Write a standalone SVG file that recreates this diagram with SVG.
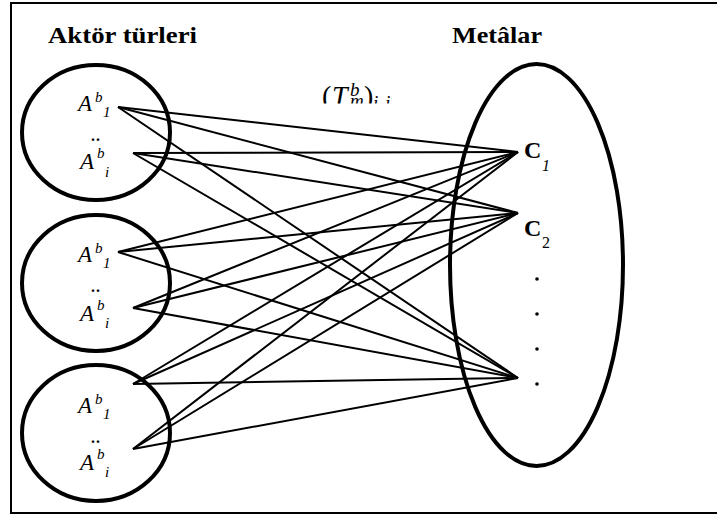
<svg xmlns="http://www.w3.org/2000/svg" width="717" height="515" viewBox="0 0 717 515">
<defs>
<style>
.frame{fill:none;stroke:#000;stroke-width:2}
.set{fill:none;stroke:#000;stroke-width:4}
.conn line{stroke:#000;stroke-width:2}
.hdr{font-family:"Liberation Serif","Times New Roman",serif;font-weight:bold;font-size:24px;fill:#000}
.it{font-family:"Liberation Serif","Times New Roman",serif;font-style:italic;fill:#000}
.rm{font-family:"Liberation Serif","Times New Roman",serif;fill:#000}
.A{font-size:23px}
.s{font-size:15px}
.dd{font-family:"Liberation Serif","Times New Roman",serif;font-weight:bold;font-size:16px;letter-spacing:1px;fill:#000}
.C{font-family:"Liberation Serif","Times New Roman",serif;font-weight:bold;font-size:24px;fill:#000}
.cs{font-size:16px}
</style>
<clipPath id="fclip"><rect x="300" y="70" width="120" height="33.5"/></clipPath>
</defs>
<rect class="frame" x="11" y="3" width="720" height="510"/>
<text class="hdr" x="48" y="43" textLength="149" lengthAdjust="spacingAndGlyphs">Aktör türleri</text>
<text class="hdr" x="452" y="43" textLength="90" lengthAdjust="spacingAndGlyphs">Metâlar</text>
<g id="formula" clip-path="url(#fclip)">
<text class="it" font-size="28" y="105"><tspan x="322" font-style="normal">(</tspan><tspan x="332">T</tspan><tspan x="350" y="96" font-size="19">b</tspan><tspan x="350" y="107" font-size="19">m</tspan><tspan x="364" y="105" font-style="normal">)</tspan><tspan x="373" y="109" font-size="19">i</tspan><tspan x="385" font-size="19">j</tspan></text>
</g>
<g class="conn" id="connectors">
<line x1="118" y1="107" x2="518" y2="152"/>
<line x1="118" y1="107" x2="518" y2="213"/>
<line x1="118" y1="107" x2="518" y2="378"/>
<line x1="133" y1="153" x2="518" y2="152"/>
<line x1="133" y1="153" x2="518" y2="213"/>
<line x1="133" y1="153" x2="518" y2="378"/>
<line x1="118" y1="252" x2="518" y2="152"/>
<line x1="118" y1="252" x2="518" y2="213"/>
<line x1="118" y1="252" x2="518" y2="378"/>
<line x1="133" y1="308" x2="518" y2="152"/>
<line x1="133" y1="308" x2="518" y2="213"/>
<line x1="133" y1="308" x2="518" y2="378"/>
<line x1="133" y1="384" x2="518" y2="152"/>
<line x1="133" y1="384" x2="518" y2="213"/>
<line x1="133" y1="384" x2="518" y2="378"/>
<line x1="133" y1="449" x2="518" y2="152"/>
<line x1="133" y1="449" x2="518" y2="213"/>
<line x1="133" y1="449" x2="518" y2="378"/>
</g>
<g id="actor1">
<ellipse class="set" cx="96" cy="132.5" rx="74" ry="67.5"/>
<text class="it A" x="78" y="111">A</text><text class="it s" x="95" y="102">b</text><text class="it s" x="103" y="117">1</text>
<text class="dd" x="91" y="141">..</text>
<text class="it A" x="80" y="169">A</text><text class="it s" x="97" y="158">b</text><text class="it s" x="105" y="177">i</text>
</g>
<g id="actor2">
<ellipse class="set" cx="96" cy="283" rx="74" ry="68"/>
<text class="it A" x="78" y="262">A</text><text class="it s" x="95" y="253">b</text><text class="it s" x="103" y="268">1</text>
<text class="dd" x="91" y="292">..</text>
<text class="it A" x="80" y="321">A</text><text class="it s" x="97" y="310">b</text><text class="it s" x="105" y="328">i</text>
</g>
<g id="actor3">
<ellipse class="set" cx="96" cy="433" rx="74" ry="68"/>
<text class="it A" x="78" y="413">A</text><text class="it s" x="95" y="404">b</text><text class="it s" x="103" y="419">1</text>
<text class="dd" x="91" y="443">..</text>
<text class="it A" x="80" y="470">A</text><text class="it s" x="97" y="459">b</text><text class="it s" x="105" y="477">i</text>
</g>
<g id="metals">
<ellipse class="set" cx="536.5" cy="265" rx="86.5" ry="201"/>
<text class="C" x="524" y="158">C</text><text class="it cs" x="542" y="171">1</text>
<text class="C" x="524" y="236">C</text><text class="rm cs" x="542" y="248">2</text>
<circle cx="537" cy="279" r="1.8"/>
<circle cx="537" cy="314" r="1.8"/>
<circle cx="537" cy="349" r="1.8"/>
<circle cx="537" cy="384" r="1.8"/>
</g>
</svg>
